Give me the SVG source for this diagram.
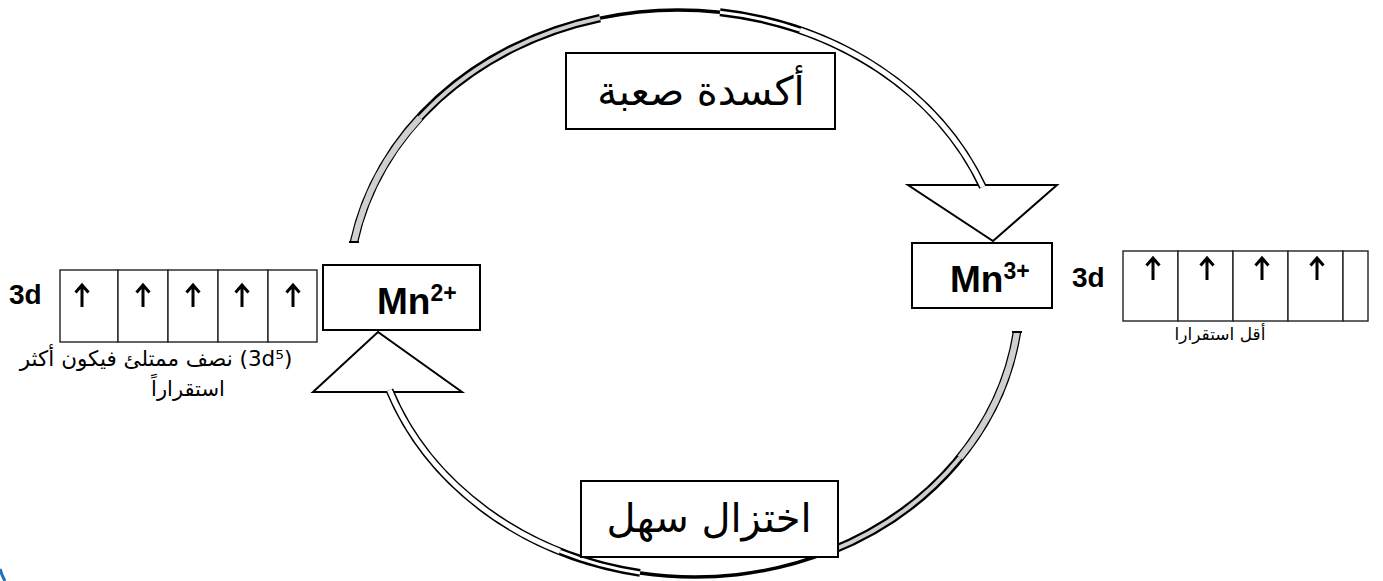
<svg xmlns="http://www.w3.org/2000/svg" width="1383" height="581" viewBox="0 0 1383 581">
<style>
.box{fill:#fff;stroke:#000;stroke-width:2}
.orb{fill:#fff;stroke:#222;stroke-width:1.4}
.head{fill:#fff;stroke:#000;stroke-width:2;stroke-linejoin:miter}
.lat{font-family:'Liberation Sans',Arial,sans-serif;font-weight:bold;fill:#000}
.ara{font-family:'DejaVu Sans','Liberation Sans',sans-serif;fill:#000;direction:rtl;text-anchor:middle}
.bk{fill:none;stroke:#000}
.gr{fill:none;stroke:#d0d0d0}
.wh{fill:none;stroke:#fff}
.up{fill:none;stroke:#000;stroke-width:3;stroke-linejoin:miter;stroke-linecap:butt}
</style>
<defs>
<g id="uparrow"><path class="up" d="M0,23 V1.5 M-6.5,8.5 L0,1 L6.5,8.5"/></g>
</defs>
<rect width="1383" height="581" fill="#fff"/>

<g id="connectors">
  <g id="oxidation-arrow">
    <polygon class="head" points="908,185 1057,185 993,241"/>
    <path class="bk" stroke-width="8.5" d="M354,242 A329,283.5 0 0 1 600,18.1"/>
    <path class="bk" stroke-width="3.5" d="M600,18.1 A329,283.5 0 0 1 720,12.3"/>
    <path class="bk" stroke-width="8" d="M720,12.3 A329,283.5 0 0 1 982.9,187"/>
    <path class="gr" stroke-width="6" d="M354,242 A329,283.5 0 0 1 420,117.6"/>
    <path class="gr" stroke-width="4" d="M420,117.6 A329,283.5 0 0 1 600,18.1"/>
    <path class="wh" stroke-width="3" d="M720,12.3 A329,283.5 0 0 1 800,30.2"/>
    <path class="wh" stroke-width="5" d="M800,30.2 A329,283.5 0 0 1 982.9,187"/>
    <line x1="349" y1="242" x2="359" y2="242" stroke="#000" stroke-width="2"/>
  </g>
  <g id="reduction-arrow">
    <polygon class="head" points="313,392 462,392 378,332"/>
    <path class="bk" stroke-width="8.5" d="M1017,332 A325,283.5 0 0 1 830,551.4"/>
    <path class="bk" stroke-width="3.5" d="M830,551.4 A325,283.5 0 0 1 640,572.9"/>
    <path class="bk" stroke-width="8" d="M640,572.9 A325,283.5 0 0 1 389.4,390"/>
    <path class="gr" stroke-width="6" d="M1017,332 A325,283.5 0 0 1 960,457.6"/>
    <path class="gr" stroke-width="4" d="M960,457.6 A325,283.5 0 0 1 830,551.4"/>
    <path class="wh" stroke-width="3" d="M640,572.9 A325,283.5 0 0 1 560,551.4"/>
    <path class="wh" stroke-width="5" d="M560,551.4 A325,283.5 0 0 1 389.4,390"/>
    <line x1="1012" y1="332" x2="1022" y2="332" stroke="#000" stroke-width="2"/>
  </g>
</g>

<g id="label-oxidation">
  <rect class="box" x="566" y="53" width="269" height="76"/>
  <text class="ara" x="701" y="105" font-size="40">أكسدة صعبة</text>
</g>

<g id="label-reduction">
  <rect class="box" x="581" y="481" width="257" height="76"/>
  <text class="ara" x="709" y="532" font-size="40">اختزال سهل</text>
</g>

<g id="node-mn2">
  <rect class="box" x="323" y="265" width="157" height="65"/>
  <text class="lat" x="377" y="314" font-size="37">Mn<tspan font-size="23" dy="-13">2+</tspan></text>
</g>

<g id="node-mn3">
  <rect class="box" x="912" y="243" width="140" height="65"/>
  <text class="lat" x="950" y="292" font-size="37">Mn<tspan font-size="23" dy="-13">3+</tspan></text>
</g>

<g id="node-orbital-mn2">
  <text class="lat" x="9" y="304" font-size="28">3d</text>
  <rect class="orb" x="60" y="270" width="58" height="72"/>
  <rect class="orb" x="118" y="270" width="50" height="72"/>
  <rect class="orb" x="168" y="270" width="50" height="72"/>
  <rect class="orb" x="218" y="270" width="50" height="72"/>
  <rect class="orb" x="268" y="270" width="49" height="72"/>
  <use href="#uparrow" x="82" y="284"/>
  <use href="#uparrow" x="143" y="284"/>
  <use href="#uparrow" x="193" y="284"/>
  <use href="#uparrow" x="242" y="284"/>
  <use href="#uparrow" x="293" y="284"/>
  <text class="ara" x="156" y="366" font-size="21.5">(3d⁵) نصف ممتلئ فيكون أكثر</text>
  <text class="ara" x="188" y="396" font-size="21">استقراراً</text>
</g>

<g id="node-orbital-mn3">
  <text class="lat" x="1072" y="287" font-size="28">3d</text>
  <rect class="orb" x="1123" y="251" width="55" height="70"/>
  <rect class="orb" x="1178" y="251" width="55" height="70"/>
  <rect class="orb" x="1233" y="251" width="55" height="70"/>
  <rect class="orb" x="1288" y="251" width="55" height="70"/>
  <rect class="orb" x="1343" y="251" width="25" height="70"/>
  <use href="#uparrow" x="1153" y="257"/>
  <use href="#uparrow" x="1207" y="257"/>
  <use href="#uparrow" x="1262" y="257"/>
  <use href="#uparrow" x="1317" y="257"/>
  <text class="ara" x="1220" y="340" font-size="17">أقل استقرارا</text>
</g>

<path d="M0,569 Q2,576 5,581" fill="none" stroke="#1e6fc0" stroke-width="3"/>
</svg>
